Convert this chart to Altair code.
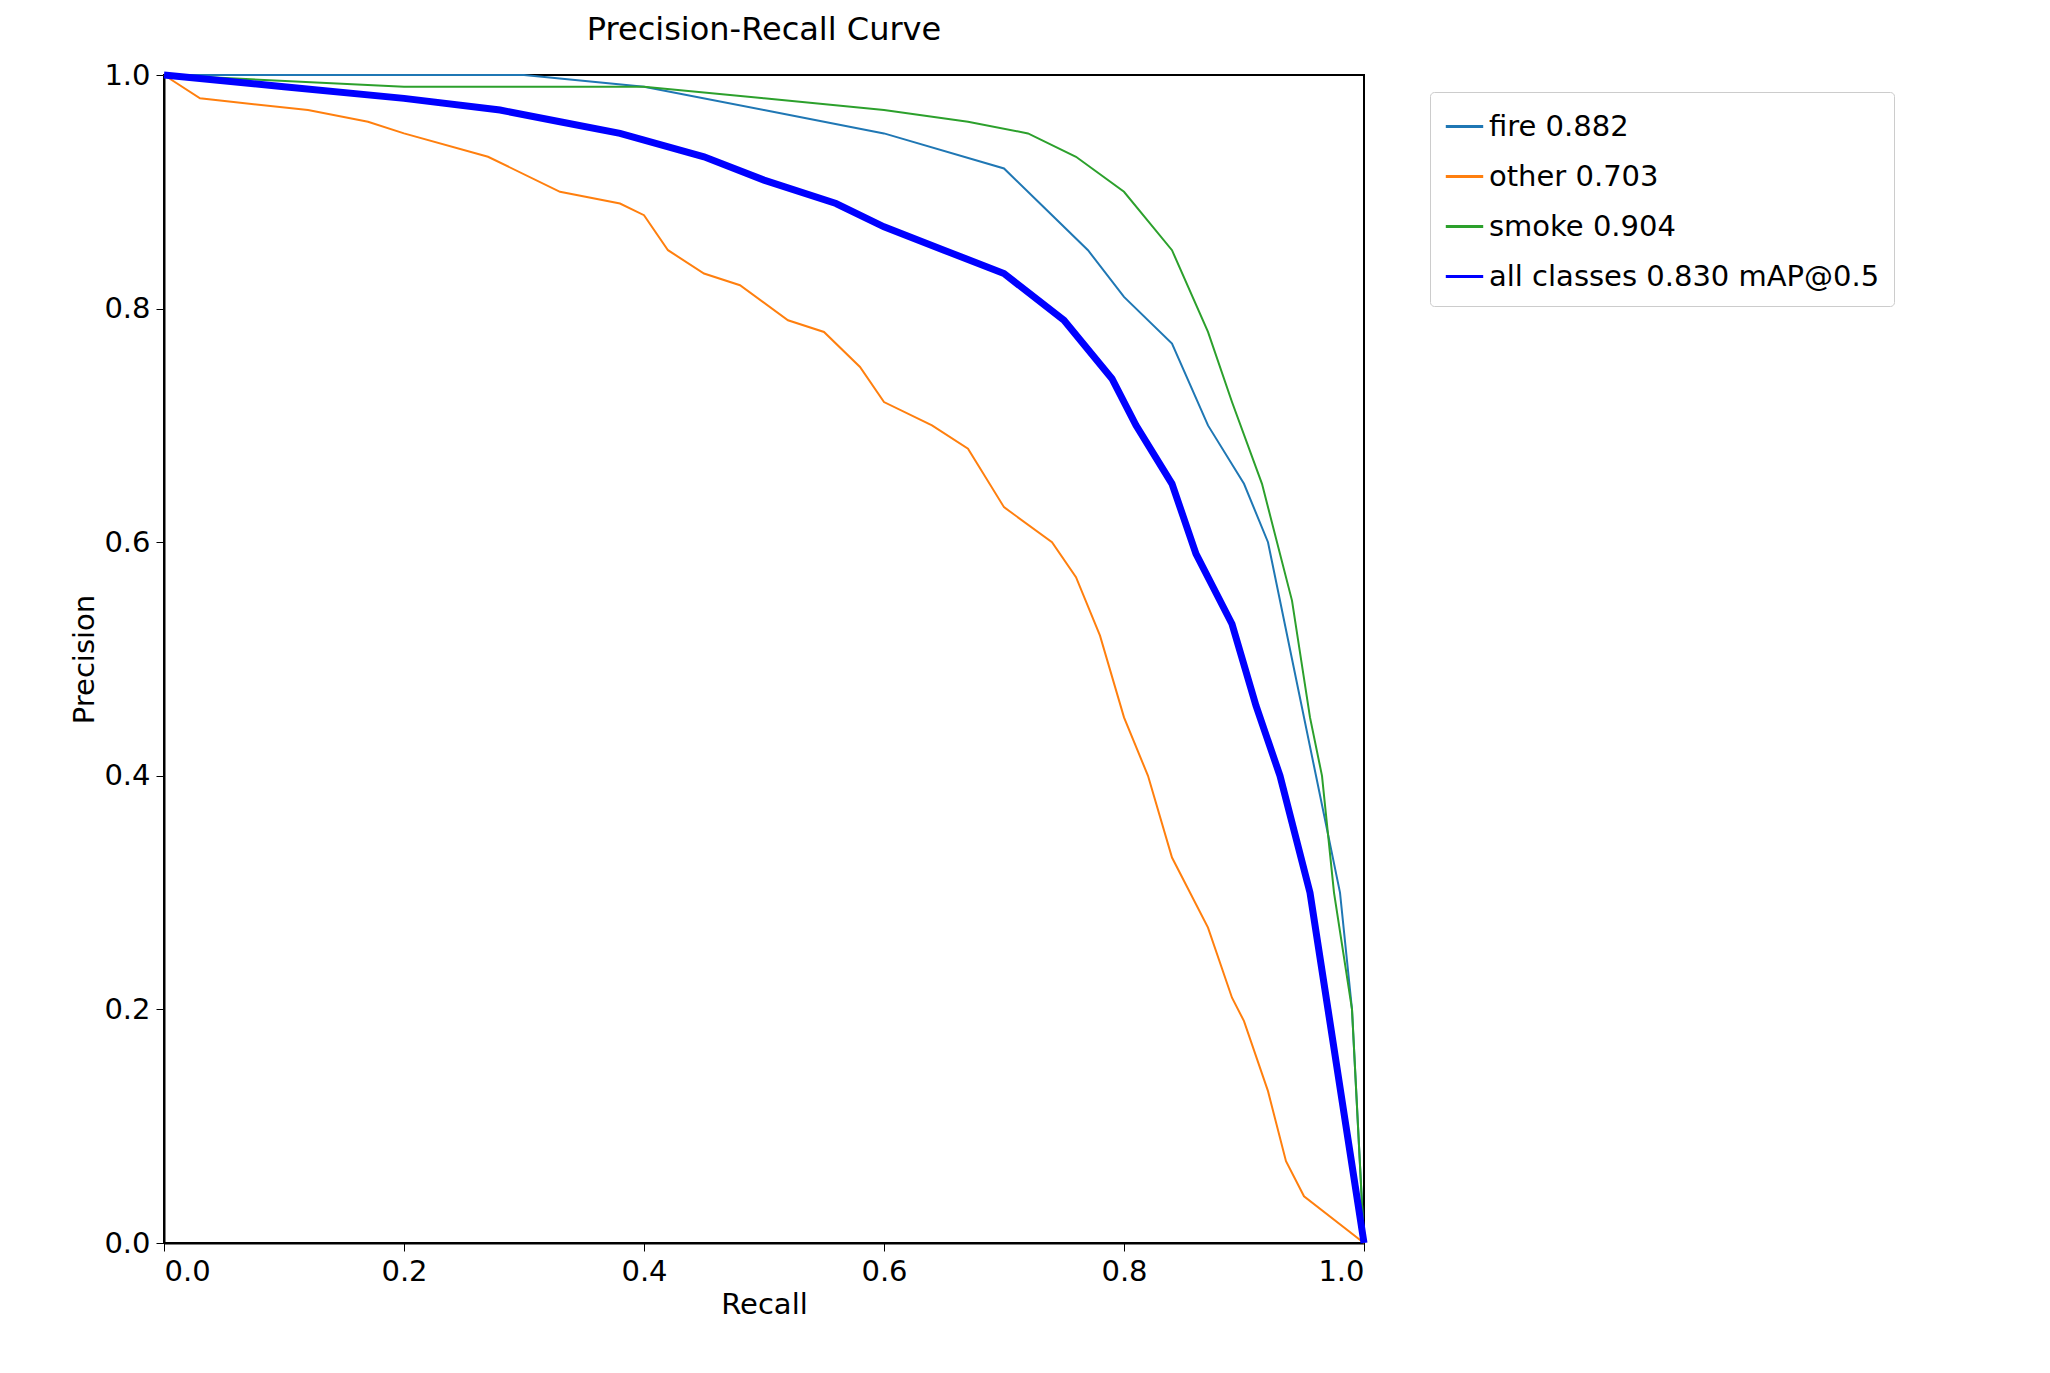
import altair as alt
import pandas as pd

fire_x = [0,0.1,0.2,0.3,0.4,0.5,0.6,0.7,0.73,0.77,0.8,0.84,0.87,0.9,0.92,0.94,0.96,0.98,0.99,1.0]
fire_y = [1,1,1,1,0.99,0.97,0.95,0.92,0.89,0.85,0.81,0.77,0.7,0.65,0.6,0.5,0.4,0.3,0.2,0.0]
other_x = [0,0.03,0.12,0.17,0.2,0.27,0.33,0.38,0.4,0.42,0.45,0.48,0.52,0.55,0.58,0.6,0.64,0.67,0.7,0.74,0.76,0.78,0.8,0.82,0.84,0.87,0.89,0.9,0.92,0.935,0.95,1.0]
other_y = [1,0.98,0.97,0.96,0.95,0.93,0.9,0.89,0.88,0.85,0.83,0.82,0.79,0.78,0.75,0.72,0.7,0.68,0.63,0.6,0.57,0.52,0.45,0.4,0.33,0.27,0.21,0.19,0.13,0.07,0.04,0.0]
smoke_x = [0,0.2,0.4,0.5,0.6,0.67,0.72,0.76,0.8,0.84,0.87,0.89,0.915,0.94,0.955,0.965,0.975,0.99,1.0]
smoke_y = [1,0.99,0.99,0.98,0.97,0.96,0.95,0.93,0.9,0.85,0.78,0.72,0.65,0.55,0.45,0.4,0.3,0.2,0.0]
all_x = [0,0.1,0.2,0.28,0.33,0.38,0.45,0.5,0.56,0.6,0.65,0.7,0.75,0.79,0.81,0.84,0.86,0.89,0.91,0.93,0.955,0.97,0.985,1.0]
all_y = [1,0.99,0.98,0.97,0.96,0.95,0.93,0.91,0.89,0.87,0.85,0.83,0.79,0.74,0.7,0.65,0.59,0.53,0.46,0.4,0.3,0.2,0.1,0.0]

names = ["fire 0.882", "other 0.703", "smoke 0.904", "all classes 0.830 mAP@0.5"]
widths = [2, 2, 2, 7]
rows = []
for n, w, xs, ys in zip(names, widths, [fire_x, other_x, smoke_x, all_x], [fire_y, other_y, smoke_y, all_y]):
    for i, (a, b) in enumerate(zip(xs, ys)):
        rows.append({"s": n, "x": a, "y": b, "o": i, "w": w})
df = pd.DataFrame(rows)

font = "DejaVu Sans"
chart = alt.Chart(df).mark_line().encode(
    x=alt.X("x:Q", title="Recall", scale=alt.Scale(domain=[0, 1], nice=False),
            axis=alt.Axis(values=[0, 0.2, 0.4, 0.6, 0.8, 1.0], format=".1f")),
    y=alt.Y("y:Q", title="Precision", scale=alt.Scale(domain=[0, 1], nice=False),
            axis=alt.Axis(values=[0, 0.2, 0.4, 0.6, 0.8, 1.0], format=".1f")),
    color=alt.Color("s:N", sort=names, title=None,
                    scale=alt.Scale(domain=names, range=["#1f77b4", "#ff7f0e", "#2ca02c", "#0000ff"]),
                    legend=alt.Legend(orient="none", legendX=1266, legendY=17, symbolType="stroke",
                                      symbolSize=1400, symbolStrokeWidth=3, labelFontSize=29, labelFont=font,
                                      padding=14, rowPadding=14, strokeColor="#cccccc",
                                      fillColor="white", cornerRadius=4, labelLimit=600)),
    strokeWidth=alt.StrokeWidth("w:Q", scale=None),
    detail="s:N",
    order="o:Q",
).properties(
    width=1200, height=1168,
    title=alt.Title("Precision-Recall Curve", fontSize=32, font=font, fontWeight="normal", offset=14),
    autosize=alt.AutoSizeParams(type="none"),
    padding={"left": 156, "top": 67, "right": 670, "bottom": 110},
).configure_view(stroke="black", strokeWidth=2).configure_axis(
    grid=False, domainColor="black", tickColor="black", labelFontSize=29, titleFontSize=29,
    labelFont=font, titleFont=font, titleFontWeight="normal", labelColor="black", titleColor="black",
    tickSize=8, labelPadding=6, domainWidth=2,
)
chart.save("out.html", embed_options={"renderer": "svg", "actions": False})
